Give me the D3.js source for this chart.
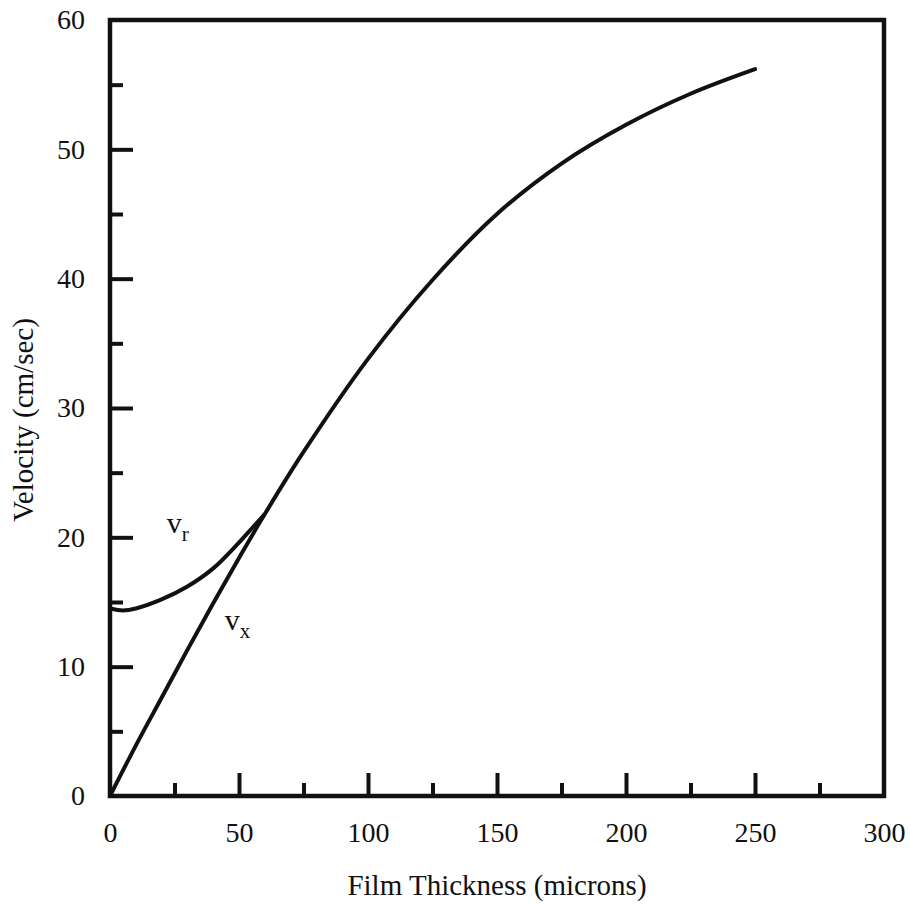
<!DOCTYPE html>
<html>
<head>
<meta charset="utf-8">
<script src="https://cdn.jsdelivr.net/npm/d3@7"></script>
<style>
  body { margin: 0; background: #fff; }
  svg text { font-family: "Liberation Serif", "Times New Roman", serif; fill: #111; }
</style>
</head>
<body>
<svg id="chart" width="910" height="905"></svg>
<script>
// film thickness (microns) vs velocity (cm/sec)
const vxThickness = [0, 10, 20, 30, 40, 50, 60, 75, 100, 125, 150, 175, 200, 225, 250];
const vxVelocity  = [0, 3.9, 7.6, 11.3, 14.9, 18.4, 21.8, 26.6, 33.8, 39.9, 45.0, 48.9, 51.9, 54.3, 56.2];
const vrThickness = [0, 5, 10, 20, 30, 40, 50, 55, 60];
const vrVelocity  = [14.5, 14.35, 14.5, 15.2, 16.2, 17.6, 19.6, 20.7, 21.8];
const xMajorTicks = [0, 50, 100, 150, 200, 250, 300];
const xMinorTicks = [25, 75, 125, 175, 225, 275];
const yMajorTicks = [0, 10, 20, 30, 40, 50, 60];
const yMinorTicks = [5, 15, 25, 35, 45, 55];

const margin = {top: 20, right: 26, bottom: 109, left: 110};
const svg = d3.select("#chart");
const width = +svg.attr("width") - margin.left - margin.right;
const height = +svg.attr("height") - margin.top - margin.bottom;
const g = svg.append("g").attr("transform", `translate(${margin.left},${margin.top})`);

const x = d3.scaleLinear().domain([0, 300]).range([0, width]);
const y = d3.scaleLinear().domain([0, 60]).range([height, 0]);

function styleAxis(sel) {
  sel.select(".domain").remove();
  sel.selectAll(".tick line").attr("stroke", "#111").attr("stroke-width", 4);
  sel.selectAll(".tick text").style("font-size", "28px");
}

// ticks point inward
g.append("g").attr("transform", `translate(0,${height})`)
  .call(d3.axisBottom(x).tickValues(xMajorTicks).tickSize(-23).tickPadding(26))
  .call(styleAxis)
  .call(s => s.selectAll(".tick").filter(d => d === 0 || d === 300).select("line").remove());
g.append("g").attr("transform", `translate(0,${height})`)
  .call(d3.axisBottom(x).tickValues(xMinorTicks).tickSize(-13).tickFormat(""))
  .call(styleAxis);
g.append("g")
  .call(d3.axisLeft(y).tickValues(yMajorTicks).tickSize(-23).tickPadding(25))
  .call(styleAxis)
  .call(s => s.selectAll(".tick").filter(d => d === 0 || d === 60).select("line").remove());
g.append("g")
  .call(d3.axisLeft(y).tickValues(yMinorTicks).tickSize(-13).tickFormat(""))
  .call(styleAxis);

// frame
g.append("rect")
  .attr("width", width).attr("height", height)
  .attr("fill", "none").attr("stroke", "#111").attr("stroke-width", 4.5);

const line = d3.line().x(d => x(d[0])).y(d => y(d[1])).curve(d3.curveCatmullRom);

g.append("path")
  .datum(d3.zip(vrThickness, vrVelocity))
  .attr("fill", "none").attr("stroke", "#111").attr("stroke-width", 4)
  .attr("d", line);
g.append("path")
  .datum(d3.zip(vxThickness, vxVelocity))
  .attr("fill", "none").attr("stroke", "#111").attr("stroke-width", 4)
  .attr("stroke-linecap", "round")
  .attr("d", line);

// curve labels
function curveLabel(sub, tx, ty) {
  const t = g.append("text").attr("x", x(tx)).attr("y", y(ty)).style("font-size", "30px");
  t.append("tspan").text("v");
  t.append("tspan").attr("dy", 8).style("font-size", "21px").text(sub);
}
curveLabel("r", 22, 20.3);
curveLabel("x", 44.5, 12.8);

// axis titles
svg.append("text")
  .attr("x", margin.left + width / 2).attr("y", 895)
  .attr("text-anchor", "middle").style("font-size", "29px")
  .text("Film Thickness (microns)");
svg.append("text")
  .attr("transform", "translate(33,420) rotate(-90)")
  .attr("text-anchor", "middle").style("font-size", "29px")
  .text("Velocity (cm/sec)");
</script>
</body>
</html>
